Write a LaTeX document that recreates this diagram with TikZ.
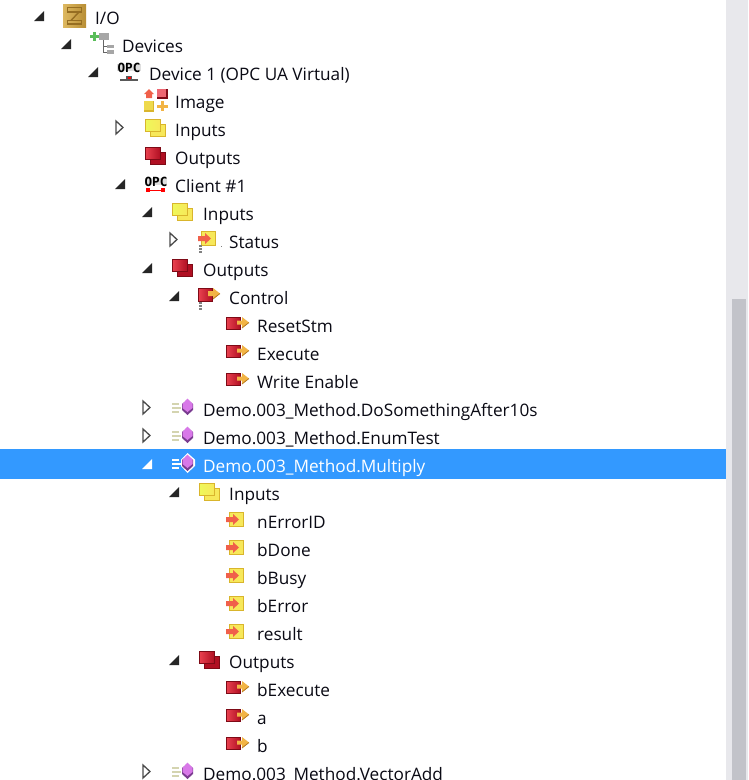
\documentclass[tikz,border=0pt]{standalone}
\usepackage{fontspec}
\setmainfont{Open Sans}
\newfontfamily\opcfont{DejaVu Sans Mono}[Scale=1.0]
\definecolor{selblue}{HTML}{3399FF}
\definecolor{track}{HTML}{E8E8EC}
\definecolor{thumb}{HTML}{C2C3C9}
\definecolor{ybord}{HTML}{D9B52C}
\definecolor{yfillA}{HTML}{EFF85A}
\definecolor{yfillB}{HTML}{F7E85A}
\definecolor{rbord}{HTML}{7E0A16}
\definecolor{rfillA}{HTML}{E8404E}
\definecolor{rfillB}{HTML}{B00F22}
\definecolor{gold}{HTML}{DDB860}
\definecolor{goldr}{HTML}{B88E35}
\definecolor{goldd}{HTML}{966E22}
\definecolor{txt}{HTML}{0A0A14}
\definecolor{arrO}{HTML}{F2B445}
\definecolor{arrOd}{HTML}{B97A1C}
\definecolor{arrI}{HTML}{F0604A}
\definecolor{streak}{HTML}{D4D4B0}
\definecolor{hexd}{HTML}{7A3C90}
\definecolor{hexl}{HTML}{D878E8}
\tikzset{
  x=1pt,y=-1pt,
  lab/.style={anchor=base west,inner sep=0pt,text=txt,font=\fontsize{17.2}{20}\selectfont},
  sellab/.style={lab,text=white},
  opclab/.style={inner sep=0pt,text=black,font=\fontsize{12.6}{12.6}\opcfont\bfseries},
  open/.pic={\fill[#1] (0,3) -- (10,3) -- (10,-7) -- cycle;},
  shut/.pic={\draw[line width=1.3pt,draw=black!70,fill=white] (0,-9) -- (7,-2.5) -- (0,4) -- cycle;},
  yfold/.pic={
    \draw[ybord,line width=1.5pt,fill=yfillB] (5.7,-5.3) rectangle (20.3,6.3);
    \draw[ybord,line width=1.5pt,left color=yfillA,right color=yfillB] (0.7,-10.3) rectangle (15.3,1.3);},
  rfold/.pic={
    \draw[rbord,line width=1.5pt,fill=rfillB] (5.7,-5.3) rectangle (20.3,6.3);
    \draw[rbord,line width=1.5pt,left color=rfillA,right color=rfillB] (0.7,-10.3) rectangle (15.3,1.3);},
  arrIn/.pic={\fill[arrI] (0,-2.5) -- (7,-2.5) -- (7,-5.5) -- (13,0) -- (7,5.5) -- (7,2.5) -- (0,2.5) -- cycle;},
  inleaf/.pic={
    \draw[ybord,line width=1.5pt,fill=yfillB] (3.7,-9.5) rectangle (17.3,4.5);
    \pic at (0,-2.5) {arrIn};},
  outleaf/.pic={
    \draw[rbord,line width=1.5pt,left color=rfillA,right color=rfillB] (0.7,-8.3) rectangle (14.3,3.3);
    \fill[arrO] (11,-5.5) -- (16,-5.5) -- (16,-9) -- (23,-3.5) -- (16,2) -- (16,-1.5) -- (11,-1.5) -- cycle;
    \draw[arrOd,line width=.8pt] (16,2) -- (23,-3.5);},
  dots/.pic={\foreach \d in {0,3,6}{\fill[gray] (0,\d) rectangle (3,\d+2);}},
  method/.pic={
    \foreach \s/\w in {-6/7,-2/9,2/7}{\fill[#1] (1,\s) rectangle (\w+1,\s+1.6);}
    \fill[hexd] (11,-5) -- (16.5,-9.5) -- (22,-5) -- (22,1) -- (16.5,6) -- (11,1) -- cycle;
    \fill[hexl] (11.5,-5) -- (16.5,-10.5) -- (21.5,-5.5) -- (21.5,-1) -- (16.5,3) -- (11.5,-1) -- cycle;},
}
\begin{document}
\begin{tikzpicture}
\clip (0,0) rectangle (748,780);
\fill[white] (0,0) rectangle (748,780);
% scrollbar and selected row
\fill[track] (726,0) rectangle (748,780);
\fill[thumb] (732,299) rectangle (746,780);
\fill[selblue] (0,449) rectangle (726,479);
% expander triangles
\foreach \px/\py in {34/18,61/46,88/74,115/186,142/214,142/270,169/298,169/494,169/662}{\pic at (\px,\py) {open=black!85};}
\pic at (142,466) {open=white};
\foreach \px/\py in {116/130,170/242,143/410,143/438,143/774}{\pic at (\px,\py) {shut};}
% I/O icon
\fill[left color=gold,right color=goldr] (63,4) rectangle (86,27);
\draw[goldd,line width=1.4pt] (67.5,7.5) rectangle (81.5,12);
\draw[goldd,line width=1.4pt] (67.5,20.5) rectangle (81.5,24);
\draw[goldd,line width=1.4pt] (79,12) -- (71,20.5);
% Devices icon
\fill[gray!70] (99,33) rectangle (109,40);
\draw[gray!80!black,line width=1pt] (103,40) -- (103,52) -- (107,52) (103,46) -- (107,46);
\fill[gray!70] (107,44.5) rectangle (114,48);
\fill[gray!70] (107,50) rectangle (114,53.5);
\fill[green!60!black!65] (93,32) rectangle (96,41);
\fill[green!60!black!65] (90,35) rectangle (99,38);
% Device 1 OPC icon
\fill[gray!25] (117,64) rectangle (141,71);
\node[opclab] (opcA) at (129,67.5) {OPC};
\fill[gray!70!black] (120,79) rectangle (138,81);
\fill[gray!70!black] (126,76) rectangle (132,79);
\fill[red] (128,77) rectangle (131,79);
% Image icon
\fill[arrI] (149,89) -- (154,94) -- (152,94) -- (152,98) -- (146,98) -- (146,94) -- (144,94) -- cycle;
\fill[rbord] (157,89) rectangle (168,99);
\fill[rfillA!80!white] (157,89) rectangle (166,97);
\fill[ybord] (144,101) rectangle (154,112);
\fill[yfillB!70!ybord] (144,101) rectangle (153,110);
\fill[arrO] (161,101) rectangle (164,111);
\fill[arrO] (157,104.5) rectangle (168,107.5);
% folders
\pic at (145,130) {yfold};
\pic at (145,158) {rfold};
\pic at (172,214) {yfold};
\pic at (172,270) {rfold};
\pic at (199,494) {yfold};
\pic at (199,662) {rfold};
% Client OPC icon
\fill[gray!25] (145,178) rectangle (167,185);
\node[opclab] (opcB) at (156,181.5) {OPC};
\draw[red,line width=1pt] (148,190) -- (163,190);
\fill[red] (146,188) rectangle (150,192);
\fill[red] (161,188) rectangle (165,192);
% struct icons
\pic at (198,241) {inleaf};
\pic at (199,245) {dots};
\fill[gray] (221,246) rectangle (222,247);
\draw[rbord,line width=1.5pt,left color=rfillA,right color=rfillB] (198.7,288.7) rectangle (212.3,301.3);
\fill[arrO] (208,291) -- (213,291) -- (213,288) -- (220,293.5) -- (213,299) -- (213,296) -- (208,296) -- cycle;
\draw[arrOd,line width=.8pt] (213,299) -- (220,293.5);
\pic at (199,302) {dots};
% leaves
\foreach \py in {326,354,382,690,718,746}{\pic at (226,\py) {outleaf};}
\foreach \py in {522,550,578,606,634}{\pic at (226,\py) {inleaf};}
% method icons
\foreach \py in {410,438,774}{\pic at (171,\py-1) {method=streak};}
\fill[white] (187.5,453) -- (195,459.5) -- (195,466) -- (187.5,473) -- (181,466) -- (181,459.5) -- cycle;
\pic at (171,465) {method=white};
% labels
\node[lab] (tIO) at (95,24) {I/O};
\node[lab] (tDevices) at (122,52) {Devices};
\node[lab] (tDev) at (149,80) {Device 1 (OPC UA Virtual)};
\node[lab] (tImage) at (175,108) {Image};
\node[lab] (tIn) at (175,136) {Inputs};
\node[lab] (tOut) at (175,164) {Outputs};
\node[lab] (tClient) at (175,192) {Client \#1};
\node[lab] (tCIn) at (203,220) {Inputs};
\node[lab] (tStatus) at (229,248) {Status};
\node[lab] (tCOut) at (203,276) {Outputs};
\node[lab] (tControl) at (229,304) {Control};
\node[lab] (tReset) at (257,332) {ResetStm};
\node[lab] (tExec) at (257,360) {Execute};
\node[lab] (tWrite) at (257,388) {Write Enable};
\node[lab] (tM1) at (203,416) {Demo.003\_Method.DoSomethingAfter10s};
\node[lab] (tM2) at (203,444) {Demo.003\_Method.EnumTest};
\node[sellab] (tM3) at (203,472) {Demo.003\_Method.Multiply};
\node[lab] (tMIn) at (229,500) {Inputs};
\node[lab] (tErr) at (257,528) {nErrorID};
\node[lab] (tDone) at (257,556) {bDone};
\node[lab] (tBusy) at (257,584) {bBusy};
\node[lab] (tError) at (257,612) {bError};
\node[lab] (tRes) at (257,640) {result};
\node[lab] (tMOut) at (229,668) {Outputs};
\node[lab] (tbExec) at (257,696) {bExecute};
\node[lab] (ta) at (257,724) {a};
\node[lab] (tb) at (257,752) {b};
\node[lab] (tM4) at (203,780) {Demo.003\_Method.VectorAdd};
\end{tikzpicture}
\end{document}
